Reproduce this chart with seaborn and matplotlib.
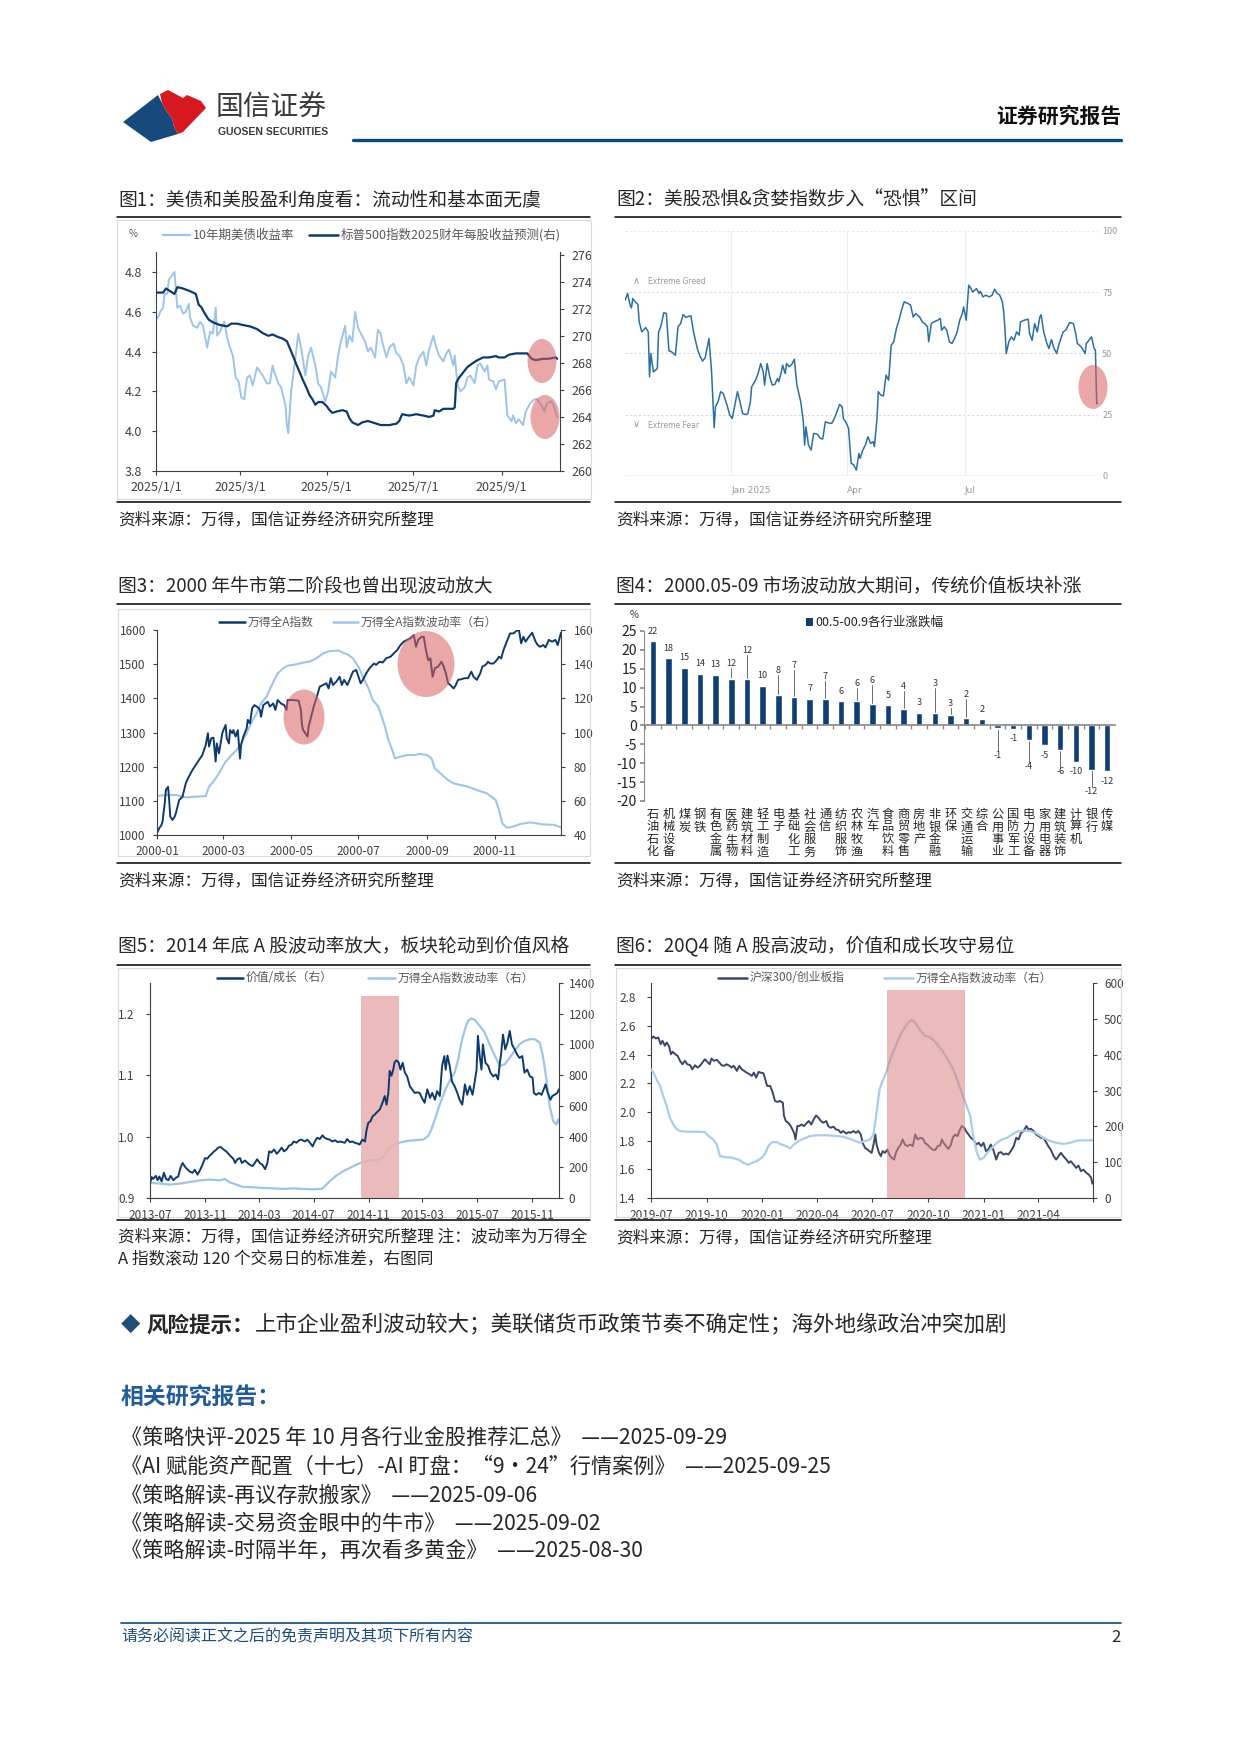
import numpy as np
import pandas as pd
import seaborn as sns
import matplotlib.pyplot as plt
from matplotlib.lines import Line2D
from matplotlib.patches import Ellipse, Polygon, Rectangle

# ---------------- data ----------------
# fig1: 10y treasury yield (%), days since 2025-01-01
ust_day = [0, 2, 3, 5, 6, 8, 9, 11, 13, 15, 17, 19, 21, 23, 24, 26, 29, 31, 33, 36,
           38, 40, 42, 43, 45, 48, 50, 52, 54, 56, 58, 60, 62, 64, 66, 68, 71, 73, 75, 78,
           80, 82, 83, 86, 88, 91, 92, 93, 95, 98, 100, 102, 105, 107, 109, 112, 114, 116, 119, 121,
           123, 126, 128, 130, 133, 134, 136, 138, 140, 142, 144, 147, 149, 151, 154, 156, 158, 159, 162, 164,
           167, 169, 171, 174, 176, 178, 181, 183, 185, 188, 190, 192, 195, 197, 199, 202, 204, 206, 209, 210,
           212, 214, 217, 219, 221, 224, 226, 228, 231, 233, 234, 237, 239, 241, 245, 247, 250, 251, 253, 255,
           258, 260, 263, 266, 268, 271, 273, 275, 278, 280, 282]
ust_yield = [4.56, 4.58, 4.60, 4.62, 4.69, 4.69, 4.76, 4.78, 4.80, 4.62, 4.63, 4.59, 4.60, 4.64, 4.57, 4.53, 4.52, 4.55, 4.53, 4.42,
             4.50, 4.49, 4.62, 4.48, 4.50, 4.55, 4.47, 4.42, 4.38, 4.27, 4.25, 4.17, 4.16, 4.27, 4.28, 4.23, 4.32, 4.30, 4.28, 4.24,
             4.24, 4.33, 4.30, 4.24, 4.22, 4.13, 4.03, 3.99, 4.20, 4.37, 4.49, 4.42, 4.28, 4.38, 4.42, 4.33, 4.24, 4.22, 4.15, 4.20,
             4.30, 4.27, 4.38, 4.45, 4.53, 4.42, 4.48, 4.45, 4.60, 4.52, 4.49, 4.45, 4.40, 4.42, 4.37, 4.51, 4.49, 4.45, 4.37, 4.42,
             4.44, 4.39, 4.38, 4.33, 4.24, 4.27, 4.23, 4.33, 4.37, 4.40, 4.33, 4.41, 4.48, 4.42, 4.38, 4.35, 4.39, 4.41, 4.33, 4.38,
             4.23, 4.20, 4.22, 4.27, 4.28, 4.24, 4.33, 4.34, 4.30, 4.33, 4.26, 4.25, 4.21, 4.25, 4.26, 4.08, 4.05, 4.08, 4.04, 4.06,
             4.03, 4.10, 4.14, 4.16, 4.16, 4.13, 4.10, 4.14, 4.15, 4.12, 4.07]
# fig1: S&P500 FY2025 EPS forecast (right axis)
eps_day = [0, 5, 7, 10, 13, 15, 19, 24, 28, 30, 32, 34, 37, 40, 45, 50, 53, 57, 61, 66,
           71, 75, 79, 82, 86, 89, 92, 94, 96, 99, 101, 103, 106, 108, 110, 112, 114, 117, 120, 122,
           124, 127, 131, 134, 136, 138, 142, 145, 149, 152, 155, 158, 164, 169, 171, 173, 178, 183, 188, 192,
           195, 196, 199, 202, 206, 209, 210, 211, 213, 216, 219, 223, 226, 230, 234, 239, 241, 245, 248, 253,
           258, 261, 264, 267, 272, 276, 281, 282]
eps_val = [273.2, 273.2, 273.5, 273.3, 273.1, 273.6, 273.5, 273.3, 273.1, 272.3, 272.1, 271.7, 271.2, 271.0, 270.8, 270.7, 270.9, 270.9, 270.8, 270.7,
           270.5, 270.2, 270.0, 270.1, 269.9, 269.8, 269.6, 269.1, 268.6, 267.8, 267.3, 266.8, 266.1, 265.6, 265.3, 264.9, 265.1, 265.1, 264.8, 264.5,
           264.3, 264.4, 264.5, 264.4, 263.9, 263.6, 263.4, 263.6, 263.7, 263.6, 263.5, 263.4, 263.4, 263.5, 263.7, 264.2, 264.1, 264.2, 264.1, 264.0,
           264.1, 264.5, 264.4, 264.6, 264.6, 264.6, 264.7, 266.5, 266.9, 267.3, 267.7, 268.0, 268.2, 268.4, 268.4, 268.5, 268.4, 268.4, 268.6, 268.7,
           268.7, 268.7, 268.3, 268.2, 268.3, 268.3, 268.4, 268.3]

# fig2: CNN fear & greed index, days relative to 2025-01-01
fg_day = [-82, -80, -78, -77, -76, -74, -72, -71, -69, -66, -64, -63, -62, -60, -57, -56, -54, -52, -50, -48,
          -46, -43, -41, -39, -37, -35, -31, -29, -26, -24, -22, -20, -18, -17, -15, -13, -12, -10, -8, -6,
          -3, -1, 1, 3, 5, 7, 9, 11, 13, 15, 16, 19, 21, 23, 25, 26, 28, 30, 32, 34,
          36, 37, 39, 40, 42, 43, 45, 47, 49, 51, 54, 56, 57, 58, 60, 62, 64, 67, 69, 71,
          73, 75, 78, 80, 82, 84, 86, 87, 89, 91, 93, 95, 97, 99, 100, 102, 104, 106, 108, 110,
          111, 113, 114, 116, 118, 120, 122, 124, 126, 128, 130, 132, 134, 137, 139, 141, 143, 146, 148, 150,
          152, 153, 155, 157, 160, 162, 163, 165, 167, 169, 171, 173, 175, 177, 179, 180, 182, 184, 186, 187,
          190, 192, 193, 195, 197, 200, 202, 204, 206, 208, 210, 211, 212, 213, 215, 217, 219, 221, 223, 224,
          227, 230, 231, 233, 235, 237, 239, 240, 242, 244, 246, 248, 250, 252, 254, 257, 259, 262, 265, 267,
          268, 271, 274, 275, 277, 279, 281, 282, 283, 284]
fg_val = [71.7, 74.5, 69.7, 68.6, 72.4, 71.1, 70.0, 62.9, 58.8, 60.6, 58.8, 40.5, 50.0, 42.5, 43.9, 58.8, 61.5, 66.7, 66.3, 51.1,
          50.7, 49.3, 60.9, 62.2, 65.9, 64.8, 65.4, 58.8, 52.0, 49.0, 46.9, 48.2, 53.4, 56.1, 42.5, 19.7, 28.3, 30.3, 34.4, 33.7,
          28.9, 24.9, 23.5, 28.9, 34.4, 30.3, 25.5, 25.1, 25.4, 30.3, 36.4, 39.1, 41.8, 45.9, 42.5, 37.1, 45.9, 40.5, 37.1, 37.4,
          39.8, 38.5, 42.5, 45.2, 41.8, 45.9, 44.6, 45.5, 47.7, 37.1, 30.3, 22.1, 12.6, 20.1, 12.6, 10.6, 17.4, 17.0, 15.4, 15.1,
          22.1, 21.7, 21.5, 23.5, 26.2, 29.2, 28.3, 23.5, 21.9, 19.4, 5.2, 4.5, 2.4, 9.2, 7.2, 10.6, 12.6, 16.0, 13.3, 14.0,
          12.0, 23.5, 34.4, 33.0, 32.7, 41.2, 39.1, 53.4, 54.8, 60.2, 63.6, 67.7, 71.1, 70.4, 69.7, 64.9, 66.3, 64.9, 62.9, 62.2,
          60.9, 54.8, 62.2, 62.9, 63.6, 64.3, 59.5, 60.9, 59.5, 54.8, 54.1, 56.1, 58.8, 63.6, 66.3, 69.0, 63.6, 77.9, 76.2, 75.1,
          76.5, 74.5, 75.4, 73.1, 73.8, 73.1, 73.8, 76.2, 74.5, 73.8, 71.1, 67.3, 60.2, 50.0, 54.8, 56.8, 55.4, 58.8, 57.5, 62.9,
          63.6, 64.0, 58.2, 55.4, 62.2, 58.8, 64.9, 65.8, 58.8, 54.8, 52.0, 55.7, 52.0, 50.0, 54.1, 58.8, 59.5, 62.6, 62.2, 57.5,
          54.1, 52.7, 50.0, 54.1, 55.4, 56.8, 52.0, 51.4, 29.6, 29.6]

# fig3: Wind All A index in 2000, days since 2000-01-01
wa_day = [0, 2, 4, 5, 7, 8, 10, 11, 12, 14, 16, 17, 20, 23, 26, 28, 32, 37, 41, 44,
          46, 47, 49, 51, 53, 54, 56, 59, 60, 62, 63, 65, 66, 68, 69, 71, 73, 75, 76, 78,
          81, 82, 84, 86, 88, 90, 92, 93, 94, 96, 98, 100, 102, 105, 107, 109, 112, 115, 117, 118,
          123, 128, 130, 131, 132, 134, 136, 137, 140, 142, 144, 147, 150, 153, 155, 157, 159, 162, 165, 167,
          169, 172, 174, 177, 180, 182, 184, 186, 189, 192, 196, 198, 201, 204, 207, 211, 214, 217, 220, 223,
          226, 229, 232, 234, 236, 239, 241, 243, 245, 247, 249, 251, 254, 257, 259, 261, 263, 265, 268, 270,
          272, 275, 278, 281, 284, 286, 289, 292, 294, 297, 299, 301, 304, 307, 309, 311, 313, 316, 319, 322,
          325, 327, 329, 331, 333, 336, 339, 342, 344, 346, 349, 351, 354, 357, 360, 362, 364, 365]
wa_val = [1005, 1020, 1029, 1039, 1093, 1132, 1141, 1102, 1054, 1044, 1054, 1063, 1102, 1112, 1151, 1166, 1190, 1215, 1234, 1263,
          1298, 1259, 1283, 1285, 1215, 1268, 1239, 1298, 1307, 1322, 1283, 1268, 1307, 1298, 1307, 1288, 1307, 1224, 1263, 1288,
          1312, 1337, 1327, 1371, 1380, 1376, 1371, 1366, 1346, 1380, 1385, 1390, 1376, 1385, 1366, 1395, 1385, 1380, 1366, 1395,
          1395, 1393, 1366, 1322, 1307, 1298, 1288, 1317, 1356, 1380, 1400, 1434, 1439, 1444, 1429, 1459, 1439, 1449, 1463, 1439,
          1454, 1439, 1454, 1478, 1483, 1463, 1444, 1454, 1473, 1488, 1502, 1498, 1507, 1505, 1517, 1522, 1532, 1541, 1556, 1566,
          1571, 1576, 1585, 1551, 1571, 1580, 1580, 1541, 1512, 1517, 1463, 1488, 1493, 1507, 1493, 1473, 1444, 1439, 1429, 1439,
          1454, 1456, 1459, 1459, 1478, 1463, 1454, 1473, 1493, 1498, 1507, 1502, 1502, 1512, 1522, 1517, 1541, 1566, 1590, 1590,
          1598, 1600, 1561, 1580, 1566, 1580, 1592, 1566, 1556, 1551, 1556, 1549, 1571, 1566, 1571, 1556, 1580, 1592]
vol00_day = [0, 8, 17, 26, 35, 44, 47, 52, 56, 61, 66, 72, 76, 81, 85, 90, 94, 99, 103, 106,
             109, 114, 118, 126, 132, 138, 144, 150, 156, 164, 168, 173, 177, 182, 186, 191, 195, 200, 203, 206,
             209, 212, 215, 220, 226, 232, 238, 244, 248, 251, 256, 262, 268, 274, 281, 289, 298, 306, 309, 312,
             316, 322, 328, 337, 343, 349, 359, 365]
vol00_val = [62.8, 63.4, 63.4, 62.0, 62.4, 62.8, 68.3, 72.2, 76.1, 82.0, 85.9, 89.8, 93.7, 99.5, 105.4, 111.2, 117.1, 121.0, 126.8, 130.7,
             134.6, 137.6, 139.1, 139.9, 140.9, 141.5, 143.4, 146.3, 147.7, 147.9, 146.7, 145.4, 143.4, 138.5, 132.7, 125.9, 119.0, 115.1, 109.3, 103.4,
             95.6, 90.7, 84.9, 85.9, 86.8, 86.8, 87.4, 86.8, 84.9, 79.0, 76.1, 72.6, 70.2, 69.3, 68.3, 66.3, 64.4, 60.5, 54.6, 46.8,
             44.3, 44.9, 46.4, 47.4, 46.8, 46.2, 45.9, 44.5]

# fig4: industry returns 2000.05-2000.09 (%)
ind_names = ['石油石化', '机械设备', '煤炭', '钢铁', '有色金属', '医药生物', '建筑材料', '轻工制造', '电子', '基础化工',
             '社会服务', '通信', '纺织服饰', '农林牧渔', '汽车', '食品饮料', '商贸零售', '房地产', '非银金融', '环保',
             '交通运输', '综合', '公用事业', '国防军工', '电力设备', '家用电器', '建筑装饰', '计算机', '银行', '传媒']
ind_ret = [22.4, 17.8, 15.3, 13.7, 13.4, 12.4, 12.3, 10.4, 8.0, 7.4, 7.1, 6.9, 6.4, 6.4, 5.7, 5.4, 4.3, 3.4, 3.3, 2.7,
           1.9, 1.7, -0.8, -0.9, -3.9, -5.2, -6.4, -9.7, -11.8, -12.1]
# how far each value label sits from its bar end (layout only)
label_gap = [2.6, 2.5, 2.7, 2.6, 2.7, 3.9, 7.6, 2.7, 6.5, 8.4, 2.6, 6.0, 2.7, 4.6, 6.3, 2.6, 6.0, 2.7, 7.7, 3.2,
             6.3, 2.5, -7.2, -2.5, -7.1, -2.7, -5.9, -2.6, -5.6, -2.8]

# fig5: value/growth and A-share volatility, days since 2013-07-01
vg_day = [0, 4, 7, 13, 17, 21, 26, 31, 36, 41, 46, 52, 58, 63, 68, 73, 78, 83, 89, 95,
          100, 106, 112, 117, 123, 128, 132, 138, 143, 147, 152, 158, 164, 170, 175, 180, 186, 190, 195, 201,
          205, 212, 218, 223, 229, 234, 239, 245, 251, 257, 262, 266, 271, 277, 283, 288, 294, 299, 305, 310,
          316, 321, 327, 333, 338, 346, 351, 357, 363, 368, 373, 379, 385, 390, 396, 401, 407, 413, 419, 424,
          430, 435, 440, 446, 452, 457, 462, 468, 474, 480, 483, 487, 492, 497, 502, 507, 513, 519, 524, 528,
          532, 535, 539, 543, 546, 550, 555, 559, 564, 569, 574, 580, 586, 591, 596, 602, 607, 613, 619, 625,
          630, 636, 641, 647, 652, 657, 660, 664, 669, 674, 680, 686, 691, 697, 703, 708, 714, 720, 725, 729,
          732, 736, 740, 743, 749, 755, 760, 766, 772, 777, 781, 784, 788, 793, 798, 803, 808, 814, 819, 825,
          831, 836, 842, 848, 854, 857, 862, 868, 874, 879, 883, 888, 894, 898, 903, 909, 913]
vg_val = [0.924, 0.934, 0.931, 0.936, 0.929, 0.935, 0.927, 0.941, 0.931, 0.929, 0.936, 0.929, 0.933, 0.935, 0.949, 0.957, 0.951, 0.947, 0.943, 0.941,
          0.946, 0.938, 0.946, 0.954, 0.965, 0.964, 0.968, 0.972, 0.976, 0.978, 0.982, 0.983, 0.979, 0.976, 0.972, 0.968, 0.964, 0.957, 0.963, 0.965,
          0.957, 0.961, 0.957, 0.954, 0.952, 0.957, 0.963, 0.957, 0.954, 0.947, 0.957, 0.976, 0.974, 0.979, 0.972, 0.976, 0.982, 0.976, 0.979, 0.985,
          0.987, 0.992, 0.990, 0.994, 0.995, 0.992, 0.995, 0.990, 0.984, 0.992, 0.998, 0.996, 1.002, 0.998, 0.996, 0.995, 0.992, 0.994, 0.991, 0.992,
          0.991, 0.990, 0.996, 0.991, 0.992, 0.990, 0.989, 0.987, 0.995, 0.992, 1.009, 1.022, 1.025, 1.033, 1.036, 1.040, 1.044, 1.055, 1.066, 1.052,
          1.071, 1.107, 1.099, 1.109, 1.121, 1.124, 1.121, 1.109, 1.120, 1.104, 1.098, 1.082, 1.076, 1.071, 1.072, 1.071, 1.063, 1.055, 1.077, 1.063,
          1.071, 1.060, 1.074, 1.066, 1.115, 1.131, 1.109, 1.132, 1.115, 1.090, 1.082, 1.071, 1.060, 1.052, 1.085, 1.068, 1.082, 1.068, 1.090, 1.109,
          1.164, 1.131, 1.109, 1.150, 1.120, 1.115, 1.104, 1.098, 1.101, 1.093, 1.120, 1.136, 1.166, 1.142, 1.153, 1.172, 1.150, 1.142, 1.134, 1.128,
          1.131, 1.104, 1.109, 1.098, 1.096, 1.071, 1.068, 1.071, 1.068, 1.077, 1.085, 1.071, 1.060, 1.066, 1.068, 1.071, 1.077]
vol14_day = [0, 22, 45, 67, 89, 112, 134, 156, 167, 178, 193, 208, 230, 253, 275, 297, 320, 342, 364, 383,
             390, 401, 416, 431, 446, 461, 476, 491, 506, 517, 524, 535, 550, 565, 580, 595, 610, 621, 628, 636,
             643, 651, 658, 665, 673, 680, 688, 695, 703, 710, 717, 725, 736, 747, 758, 770, 781, 792, 803, 814,
             825, 836, 848, 859, 870, 877, 885, 892, 900, 907, 911, 913]
vol14_val = [98, 94, 87, 94, 104, 115, 120, 115, 124, 102, 87, 72, 70, 65, 63, 59, 63, 59, 57, 59,
             76, 109, 146, 174, 196, 218, 235, 246, 246, 255, 283, 327, 355, 366, 374, 377, 381, 403, 446, 512,
             577, 642, 697, 740, 784, 816, 903, 1012, 1099, 1154, 1169, 1160, 1121, 1078, 1001, 925, 860, 871, 914, 958,
             1001, 1023, 1034, 1034, 1012, 925, 773, 599, 501, 479, 512, 490]

# fig6: CSI300 / ChiNext and volatility, days since 2019-07-01
hs_day = [0, 4, 8, 12, 16, 19, 23, 26, 30, 33, 36, 40, 44, 48, 52, 56, 60, 65, 68, 73,
          77, 81, 85, 89, 93, 97, 100, 104, 109, 113, 117, 121, 125, 130, 133, 137, 142, 146, 150, 154,
          158, 163, 167, 170, 174, 178, 181, 186, 189, 192, 197, 201, 205, 209, 213, 218, 220, 223, 227, 231,
          234, 237, 239, 242, 245, 249, 253, 258, 261, 265, 269, 273, 277, 281, 285, 290, 293, 297, 302, 306,
          310, 314, 318, 323, 327, 330, 335, 339, 343, 347, 350, 354, 358, 361, 365, 368, 371, 373, 377, 380,
          383, 387, 391, 394, 398, 402, 405, 409, 413, 416, 420, 424, 429, 433, 437, 441, 445, 450, 453, 457,
          462, 466, 470, 474, 478, 481, 484, 488, 492, 496, 499, 503, 507, 511, 514, 518, 521, 525, 529, 533,
          538, 542, 546, 550, 554, 558, 562, 566, 571, 575, 579, 583, 587, 591, 595, 600, 604, 608, 612, 616,
          621, 624, 628, 633, 637, 641, 645, 649, 654, 657, 661, 666, 670, 674, 678, 682, 687, 691, 694, 699,
          703, 707, 711, 715, 720, 724, 728, 730]
hs_val = [2.508, 2.527, 2.513, 2.520, 2.473, 2.497, 2.462, 2.485, 2.457, 2.403, 2.420, 2.403, 2.392, 2.357, 2.333, 2.357, 2.333, 2.326, 2.298, 2.326,
          2.310, 2.322, 2.345, 2.368, 2.350, 2.333, 2.373, 2.357, 2.364, 2.345, 2.326, 2.322, 2.333, 2.322, 2.310, 2.322, 2.287, 2.322, 2.298, 2.287,
          2.275, 2.263, 2.252, 2.275, 2.240, 2.280, 2.275, 2.270, 2.228, 2.182, 2.182, 2.140, 2.077, 2.070, 2.077, 2.065, 1.972, 1.937, 1.925, 1.902,
          1.878, 1.850, 1.808, 1.902, 1.902, 1.913, 1.902, 1.925, 1.937, 1.913, 1.948, 1.976, 1.960, 1.937, 1.925, 1.937, 1.902, 1.890, 1.897, 1.878,
          1.874, 1.855, 1.867, 1.850, 1.860, 1.855, 1.867, 1.855, 1.867, 1.843, 1.785, 1.750, 1.738, 1.727, 1.715, 1.773, 1.843, 1.773, 1.715, 1.692,
          1.727, 1.715, 1.738, 1.703, 1.680, 1.668, 1.715, 1.750, 1.773, 1.808, 1.773, 1.762, 1.773, 1.762, 1.843, 1.808, 1.820, 1.813, 1.785, 1.773,
          1.750, 1.738, 1.734, 1.762, 1.766, 1.808, 1.785, 1.762, 1.743, 1.773, 1.820, 1.843, 1.832, 1.878, 1.902, 1.890, 1.867, 1.843, 1.820, 1.808,
          1.773, 1.785, 1.762, 1.785, 1.727, 1.738, 1.773, 1.738, 1.668, 1.715, 1.720, 1.703, 1.710, 1.703, 1.727, 1.762, 1.820, 1.808, 1.855, 1.867,
          1.902, 1.878, 1.883, 1.867, 1.843, 1.832, 1.820, 1.820, 1.785, 1.762, 1.738, 1.692, 1.668, 1.692, 1.715, 1.692, 1.668, 1.645, 1.657, 1.633,
          1.610, 1.626, 1.587, 1.598, 1.575, 1.563, 1.540, 1.500]
vol20_day = [0, 4, 9, 15, 20, 26, 31, 37, 42, 48, 59, 76, 89, 95, 103, 109, 114, 122, 133, 145,
             153, 161, 167, 175, 183, 189, 194, 200, 208, 216, 224, 230, 236, 244, 252, 263, 274, 291, 307, 318,
             329, 338, 346, 354, 362, 368, 373, 378, 383, 389, 394, 400, 407, 413, 420, 426, 431, 437, 442, 448,
             453, 462, 468, 475, 484, 492, 500, 509, 516, 522, 528, 533, 539, 544, 550, 555, 564, 572, 580, 589,
             597, 605, 616, 627, 638, 649, 660, 671, 682, 693, 704, 715, 730]
vol20_val = [359, 350, 331, 313, 285, 257, 224, 205, 193, 187, 185, 185, 184, 173, 163, 149, 117, 114, 113, 107,
             98, 93, 98, 103, 112, 124, 145, 156, 156, 149, 145, 138, 149, 159, 165, 173, 175, 175, 173, 171,
             165, 159, 154, 159, 163, 177, 238, 303, 327, 350, 378, 406, 434, 457, 476, 490, 497, 490, 476, 462,
             453, 448, 439, 425, 406, 383, 359, 317, 285, 257, 229, 173, 126, 107, 112, 124, 140, 154, 163, 168,
             177, 185, 188, 187, 180, 168, 159, 154, 151, 154, 160, 161, 161]

refs = ['《策略快评-2025 年 10 月各行业金股推荐汇总》  ——2025-09-29',
        '《AI 赋能资产配置（十七）-AI 盯盘：“9·24”行情案例》  ——2025-09-25',
        '《策略解读-再议存款搬家》  ——2025-09-06',
        '《策略解读-交易资金眼中的牛市》  ——2025-09-02',
        '《策略解读-时隔半年，再次看多黄金》  ——2025-08-30']

# ---------------- figure ----------------
sns.set_theme(style='ticks')
plt.rcParams['font.family'] = ['Noto Sans CJK SC', 'DejaVu Sans']
plt.rcParams['axes.unicode_minus'] = False

W, H = 1240, 1754
fig = plt.figure(figsize=(W / 100, H / 100), dpi=100)

NAVY = '#0d3a6e'
LIGHT = '#9ec5e8'
GREY = '#404040'
BLOB = '#d9605f'


def fx(x):
    return x / W


def fy(y):
    return 1 - y / H


def add_ax(x0, y0, x1, y1):
    return fig.add_axes([fx(x0), fy(y1), (x1 - x0) / W, (y1 - y0) / H])


def text(x, y, s, size, **kw):
    kw.setdefault('va', 'center')
    fig.text(fx(x), fy(y), s, fontsize=size, **kw)


def hline(x0, x1, y, color='black', lw=1.0):
    fig.add_artist(Line2D([fx(x0), fx(x1)], [fy(y), fy(y)], color=color, lw=lw))


def frame(x0, y0, x1, y1):
    fig.add_artist(Rectangle((fx(x0), fy(y1)), (x1 - x0) / W, (y1 - y0) / H,
                             fill=False, edgecolor='#d9d9d9', lw=0.8))


def legend_line(x0, x1, y, color, label, size=8.5, lw=1.8):
    fig.add_artist(Line2D([fx(x0), fx(x1)], [fy(y), fy(y)], color=color, lw=lw))
    text(x1 + 3, y, label, size, color='#595959')


def blob(cx, cy, w, h):
    fig.add_artist(Ellipse((fx(cx), fy(cy)), w / W, h / H, facecolor=BLOB,
                           edgecolor='none', alpha=0.55, zorder=5))


def style_twin(ax, axr, size=8.5, lpad=6, rpad=4, bpad=4):
    for a in (ax, axr):
        a.spines['top'].set_visible(False)
        for s in ('left', 'right', 'bottom'):
            a.spines[s].set_color(GREY)
            a.spines[s].set_linewidth(0.8)
        a.set_xlabel('')
        a.set_ylabel('')
    ax.spines['right'].set_visible(False)
    axr.spines['left'].set_visible(False)
    axr.spines['bottom'].set_visible(False)
    ax.tick_params(axis='y', colors=GREY, labelsize=size, length=3, width=0.8, pad=lpad)
    ax.tick_params(axis='x', colors=GREY, labelsize=size, length=3, width=0.8, pad=bpad)
    axr.tick_params(axis='y', colors=GREY, labelsize=size, length=3, width=0.8, pad=rpad)


def days(base, d):
    return pd.Timestamp(base) + pd.to_timedelta(d, unit='D')


# ---------------- header ----------------
fig.add_artist(Polygon([(fx(123), fy(122)), (fx(158), fy(95)), (fx(162), fy(103)), (fx(167), fy(112)),
                        (fx(172), fy(118)), (fx(174), fy(127)), (fx(178), fy(134)), (fx(151), fy(142))],
                       closed=True, facecolor='#174a7c', edgecolor='none'))
fig.add_artist(Polygon([(fx(160), fy(94)), (fx(168), fy(90)), (fx(183), fy(98)), (fx(187), fy(95)),
                        (fx(201), fy(101)), (fx(206), fy(108)), (fx(183), fy(132)), (fx(178), fy(134)),
                        (fx(174), fy(127)), (fx(172), fy(118)), (fx(167), fy(112)), (fx(162), fy(103))],
                       closed=True, facecolor='#d7191f', edgecolor='none'))
text(216, 108, '国信证券', 20, color='#3a3a3a')
text(218, 132, 'GUOSEN SECURITIES', 7.5, color='#3a3a3a', fontweight='bold', family='Liberation Sans')
text(1121, 116, '证券研究报告', 15, ha='right', fontweight='bold', color='#111111')
hline(353, 1121, 140, color='#0b4a7d', lw=2.4)

# ---------------- chart titles / rules ----------------
LX0, LX1, RX0, RX1 = 117, 590, 615, 1121
TS = 13.5
text(118, 200, '图1：美债和美股盈利角度看：流动性和基本面无虞', TS)
text(616, 200, '图2：美股恐惧&贪婪指数步入“恐惧”区间', TS)
text(118, 586, '图3：2000 年牛市第二阶段也曾出现波动放大', TS)
text(616, 586, '图4：2000.05-09 市场波动放大期间，传统价值板块补涨', TS)
text(118, 946, '图5：2014 年底 A 股波动率放大，板块轮动到价值风格', TS)
text(616, 946, '图6：20Q4 随 A 股高波动，价值和成长攻守易位', TS)
for y in (217, 604, 965):
    hline(LX0, LX1, y, lw=1.1)
    hline(RX0, RX1, y, lw=1.1)
for y in (502, 863, 1220):
    hline(LX0, LX1, y, lw=1.1)
    hline(RX0, RX1, y, lw=1.1)
src = '资料来源：万得，国信证券经济研究所整理'
text(118, 520, src, 12)
text(616, 520, src, 12)
text(118, 881, src, 12)
text(616, 881, src, 12)
text(118, 1238, src + ' 注：波动率为万得全', 12)
text(118, 1260, 'A 指数滚动 120 个交易日的标准差，右图同', 12)
text(616, 1238, src, 12)

frame(117, 220, 591, 499)
frame(118, 609, 590, 856)
frame(118, 968, 590, 1217)
frame(616, 968, 1121, 1217)

# ---------------- fig1 ----------------
ax1 = add_ax(156, 252, 560, 471)
ax1r = ax1.twinx()
sns.lineplot(x=days('2025-01-01', ust_day), y=ust_yield, ax=ax1, color=LIGHT, lw=1.4, estimator=None)
sns.lineplot(x=days('2025-01-01', eps_day), y=eps_val, ax=ax1r, color=NAVY, lw=1.6, estimator=None)
ax1.set_xlim(pd.Timestamp('2025-01-01'), pd.Timestamp('2025-10-12'))
ax1.set_ylim(3.8, 4.9)
ax1.set_yticks(np.arange(3.8, 4.81, 0.2))
ax1.set_yticklabels([f'{v:.1f}' for v in np.arange(3.8, 4.81, 0.2)])
ax1r.set_ylim(260, 276.2)
ax1r.set_yticks(np.arange(260, 277, 2))
ax1.set_xticks(pd.to_datetime(['2025-01-01', '2025-03-01', '2025-05-01', '2025-07-01', '2025-09-01']))
ax1.set_xticklabels(['2025/1/1', '2025/3/1', '2025/5/1', '2025/7/1', '2025/9/1'])
style_twin(ax1, ax1r, size=9, lpad=7, rpad=5, bpad=4)
text(129, 234, '%', 7, color='#595959')
legend_line(163, 190, 235, LIGHT, '10年期美债收益率', size=9, lw=1.6)
legend_line(309, 338, 235, NAVY, '标普500指数2025财年每股收益预测(右)', size=9, lw=1.8)
blob(542, 361, 29, 44)
blob(545, 417, 29, 44)

# ---------------- fig2 ----------------
ax2 = add_ax(625, 231, 1098, 476)
fg_dates = days('2025-01-01', fg_day)
for v in (25, 50, 75):
    ax2.axhline(v, color='#d9d9d9', lw=0.8, ls=(0, (2, 2)))
ax2.axhline(100, color='#e6e6e6', lw=0.8, ls=(0, (2, 2)))
ax2.axhline(0, color='#cfcfcf', lw=1.0)
c2_ticks = pd.to_datetime(['2025-01-01', '2025-04-01', '2025-07-01'])
for d in c2_ticks:
    ax2.axvline(d, color='#efefef', lw=0.8)
sns.lineplot(x=fg_dates, y=fg_val, ax=ax2, color='#2a70a3', lw=1.1, estimator=None)
ax2.set_xlim(pd.Timestamp('2024-10-11'), pd.Timestamp('2025-10-12'))
ax2.set_ylim(0, 100)
ax2.yaxis.tick_right()
ax2.set_yticks([0, 25, 50, 75, 100])
ax2.set_xticks(c2_ticks)
ax2.set_xticklabels(['Jan 2025', 'Apr', 'Jul'], ha='left')
ax2.tick_params(axis='both', length=0, labelsize=6.5, labelcolor='#9a9a9a')
ax2.tick_params(axis='y', pad=3)
ax2.tick_params(axis='x', pad=7)
for lab in ax2.get_xticklabels():
    lab.set_family('DejaVu Sans')
for s in ax2.spines.values():
    s.set_visible(False)
ax2.set_xlabel('')
ax2.set_ylabel('')
text(633, 281, '∧', 7, color='#9a9a9a', family='DejaVu Sans')
text(648, 282, 'Extreme Greed', 5.5, color='#9a9a9a', family='DejaVu Sans')
text(633, 424, '∨', 7, color='#9a9a9a', family='DejaVu Sans')
text(648, 425, 'Extreme Fear', 5.5, color='#9a9a9a', family='DejaVu Sans')
blob(1093, 387, 29, 44)

# ---------------- fig3 ----------------
ax3 = add_ax(157, 630, 561, 835)
ax3r = ax3.twinx()
sns.lineplot(x=days('2000-01-01', vol00_day), y=vol00_val, ax=ax3r, color=LIGHT, lw=1.5, estimator=None)
sns.lineplot(x=days('2000-01-01', wa_day), y=wa_val, ax=ax3, color=NAVY, lw=1.4, estimator=None)
ax3.set_zorder(ax3r.get_zorder() + 1)
ax3.patch.set_visible(False)
ax3.set_xlim(pd.Timestamp('2000-01-01'), pd.Timestamp('2000-12-31'))
ax3.set_ylim(1000, 1600)
ax3.set_yticks(np.arange(1000, 1601, 100))
ax3r.set_ylim(40, 160)
ax3r.set_yticks(np.arange(40, 161, 20))
ax3.set_xticks(pd.to_datetime(['2000-01-01', '2000-03-01', '2000-05-01', '2000-07-01', '2000-09-01', '2000-11-01']))
ax3.set_xticklabels(['2000-01', '2000-03', '2000-05', '2000-07', '2000-09', '2000-11'])
style_twin(ax3, ax3r, size=8.5, lpad=5, rpad=6, bpad=4)
legend_line(219, 245, 622, NAVY, '万得全A指数', size=8.5)
legend_line(333, 358, 622, LIGHT, '万得全A指数波动率（右）', size=8.5)
blob(304, 717, 41, 55)
blob(426, 664, 57, 66)

# ---------------- fig4 ----------------
ax4 = add_ax(644, 631, 1115, 801)
xpos = np.arange(len(ind_ret))
sns.barplot(x=xpos, y=ind_ret, ax=ax4, color='#0f3f72', width=0.42, saturation=1)
ax4.set_xlim(-0.57, len(ind_ret) - 0.5)
ax4.set_ylim(-20, 25)
ax4.set_yticks(np.arange(-20, 26, 5))
ax4.spines['top'].set_visible(False)
ax4.spines['right'].set_visible(False)
ax4.spines['bottom'].set_position(('data', 0))
ax4.spines['bottom'].set_color('#8c8c8c')
ax4.spines['left'].set_color('#8c8c8c')
ax4.spines['left'].set_linewidth(0.8)
ax4.set_xticks(xpos - 0.5, minor=True)
ax4.set_xticks([])
ax4.tick_params(axis='x', which='minor', length=3, color='#8c8c8c')
ax4.tick_params(axis='y', labelsize=10, colors='#222222', length=3, color='#8c8c8c', pad=2)
ax4.set_xlabel('')
ax4.set_ylabel('')
for i, (v, g) in enumerate(zip(ind_ret, label_gap)):
    sign = 1 if g > 0 else -1
    ty = v + g
    ax4.text(i, ty, f'{v:.0f}', ha='center', va='center', fontsize=6.5, color='#333333')
    if abs(g) > 3:
        ax4.plot([i, i], [v + sign * 0.3, ty - sign * 1.2], color='#555555', lw=0.6)
for i, name in enumerate(ind_names):
    ax4.annotate('\n'.join(name), xy=(i, -20), xytext=(0, -5), textcoords='offset points',
                 ha='center', va='top', fontsize=8.8, linespacing=0.95, annotation_clip=False)
text(630, 615, '%', 7, color='#333333')
fig.add_artist(Rectangle((fx(806), fy(626)), 7 / W, 8 / H, facecolor='#0f3f72', edgecolor='none'))
text(815, 622, '00.5-00.9各行业涨跌幅', 9, color='#222222')

# ---------------- fig5 ----------------
ax5 = add_ax(150, 983, 559, 1198)
ax5r = ax5.twinx()
sns.lineplot(x=days('2013-07-01', vol14_day), y=vol14_val, ax=ax5r, color=LIGHT, lw=1.6, estimator=None)
ax5r.axvspan(pd.Timestamp('2014-10-15'), pd.Timestamp('2015-01-08'), ymin=0, ymax=0.94,
             color='#e8b0b0', alpha=0.85, lw=0, zorder=3)
sns.lineplot(x=days('2013-07-01', vg_day), y=vg_val, ax=ax5, color=NAVY, lw=1.4, estimator=None)
ax5.set_zorder(ax5r.get_zorder() + 1)
ax5.patch.set_visible(False)
ax5.set_xlim(pd.Timestamp('2013-07-01'), pd.Timestamp('2015-12-31'))
ax5.set_ylim(0.9, 1.25)
ax5.set_yticks([0.9, 1.0, 1.1, 1.2])
ax5.set_yticklabels(['0.9', '1.0', '1.1', '1.2'])
ax5r.set_ylim(0, 1400)
ax5r.set_yticks(np.arange(0, 1401, 200))
ax5.set_xticks(pd.to_datetime(['2013-07-01', '2013-11-01', '2014-03-01', '2014-07-01',
                               '2014-11-01', '2015-03-01', '2015-07-01', '2015-11-01']))
ax5.set_xticklabels(['2013-07', '2013-11', '2014-03', '2014-07', '2014-11', '2015-03', '2015-07', '2015-11'])
style_twin(ax5, ax5r, size=8.5, lpad=8, rpad=4, bpad=5)
legend_line(217, 243, 978, NAVY, '价值/成长（右）', size=8.5)
legend_line(368, 395, 978, LIGHT, '万得全A指数波动率（右）', size=8.5)

# ---------------- fig6 ----------------
ax6 = add_ax(651, 983, 1093, 1198)
ax6r = ax6.twinx()
sns.lineplot(x=days('2019-07-01', hs_day), y=hs_val, ax=ax6, color='#3b4768', lw=1.4, estimator=None)
sns.lineplot(x=days('2019-07-01', vol20_day), y=vol20_val, ax=ax6r, color='#a9cdec', lw=1.6, estimator=None)
ax6r.axvspan(pd.Timestamp('2020-07-26'), pd.Timestamp('2020-12-01'), ymin=0, ymax=0.967,
             color='#db8282', alpha=0.55, lw=0, zorder=3)
ax6.set_xlim(pd.Timestamp('2019-07-01'), pd.Timestamp('2021-07-01'))
ax6.set_ylim(1.4, 2.9)
ax6.set_yticks(np.arange(1.4, 2.81, 0.2))
ax6.set_yticklabels([f'{v:.1f}' for v in np.arange(1.4, 2.81, 0.2)])
ax6r.set_ylim(0, 600)
ax6r.set_yticks(np.arange(0, 601, 100))
ax6.set_xticks(pd.to_datetime(['2019-07-01', '2019-10-01', '2020-01-01', '2020-04-01',
                               '2020-07-01', '2020-10-01', '2021-01-01', '2021-04-01', '2021-07-01']))
ax6.set_xticklabels(['2019-07', '2019-10', '2020-01', '2020-04', '2020-07', '2020-10', '2021-01', '2021-04', ''])
style_twin(ax6, ax6r, size=8.5, lpad=8, rpad=5, bpad=5)
legend_line(718, 747, 978, '#3b4768', '沪深300/创业板指', size=8.5)
legend_line(884, 913, 978, '#a9cdec', '万得全A指数波动率（右）', size=8.5)

# ---------------- text block ----------------
text(121, 1325, '◆', 14, color='#1f4e79')
text(146, 1325, '风险提示：', 15.5, fontweight='bold')
text(255, 1325, '上市企业盈利波动较大；美联储货币政策节奏不确定性；海外地缘政治冲突加剧', 15.5)
text(121, 1398, '相关研究报告：', 16.5, fontweight='bold', color='#1f5c99')
for k, line in enumerate(refs):
    text(121, 1439 + k * 28.2, line, 15.2)

hline(121, 1121, 1623, color='#0b4a7d', lw=1.2)
text(121, 1637, '请务必阅读正文之后的免责声明及其项下所有内容', 11.5, color='#1f4e79')
text(1121, 1637, '2', 12, ha='right')

fig.savefig('out.png', dpi=100)
